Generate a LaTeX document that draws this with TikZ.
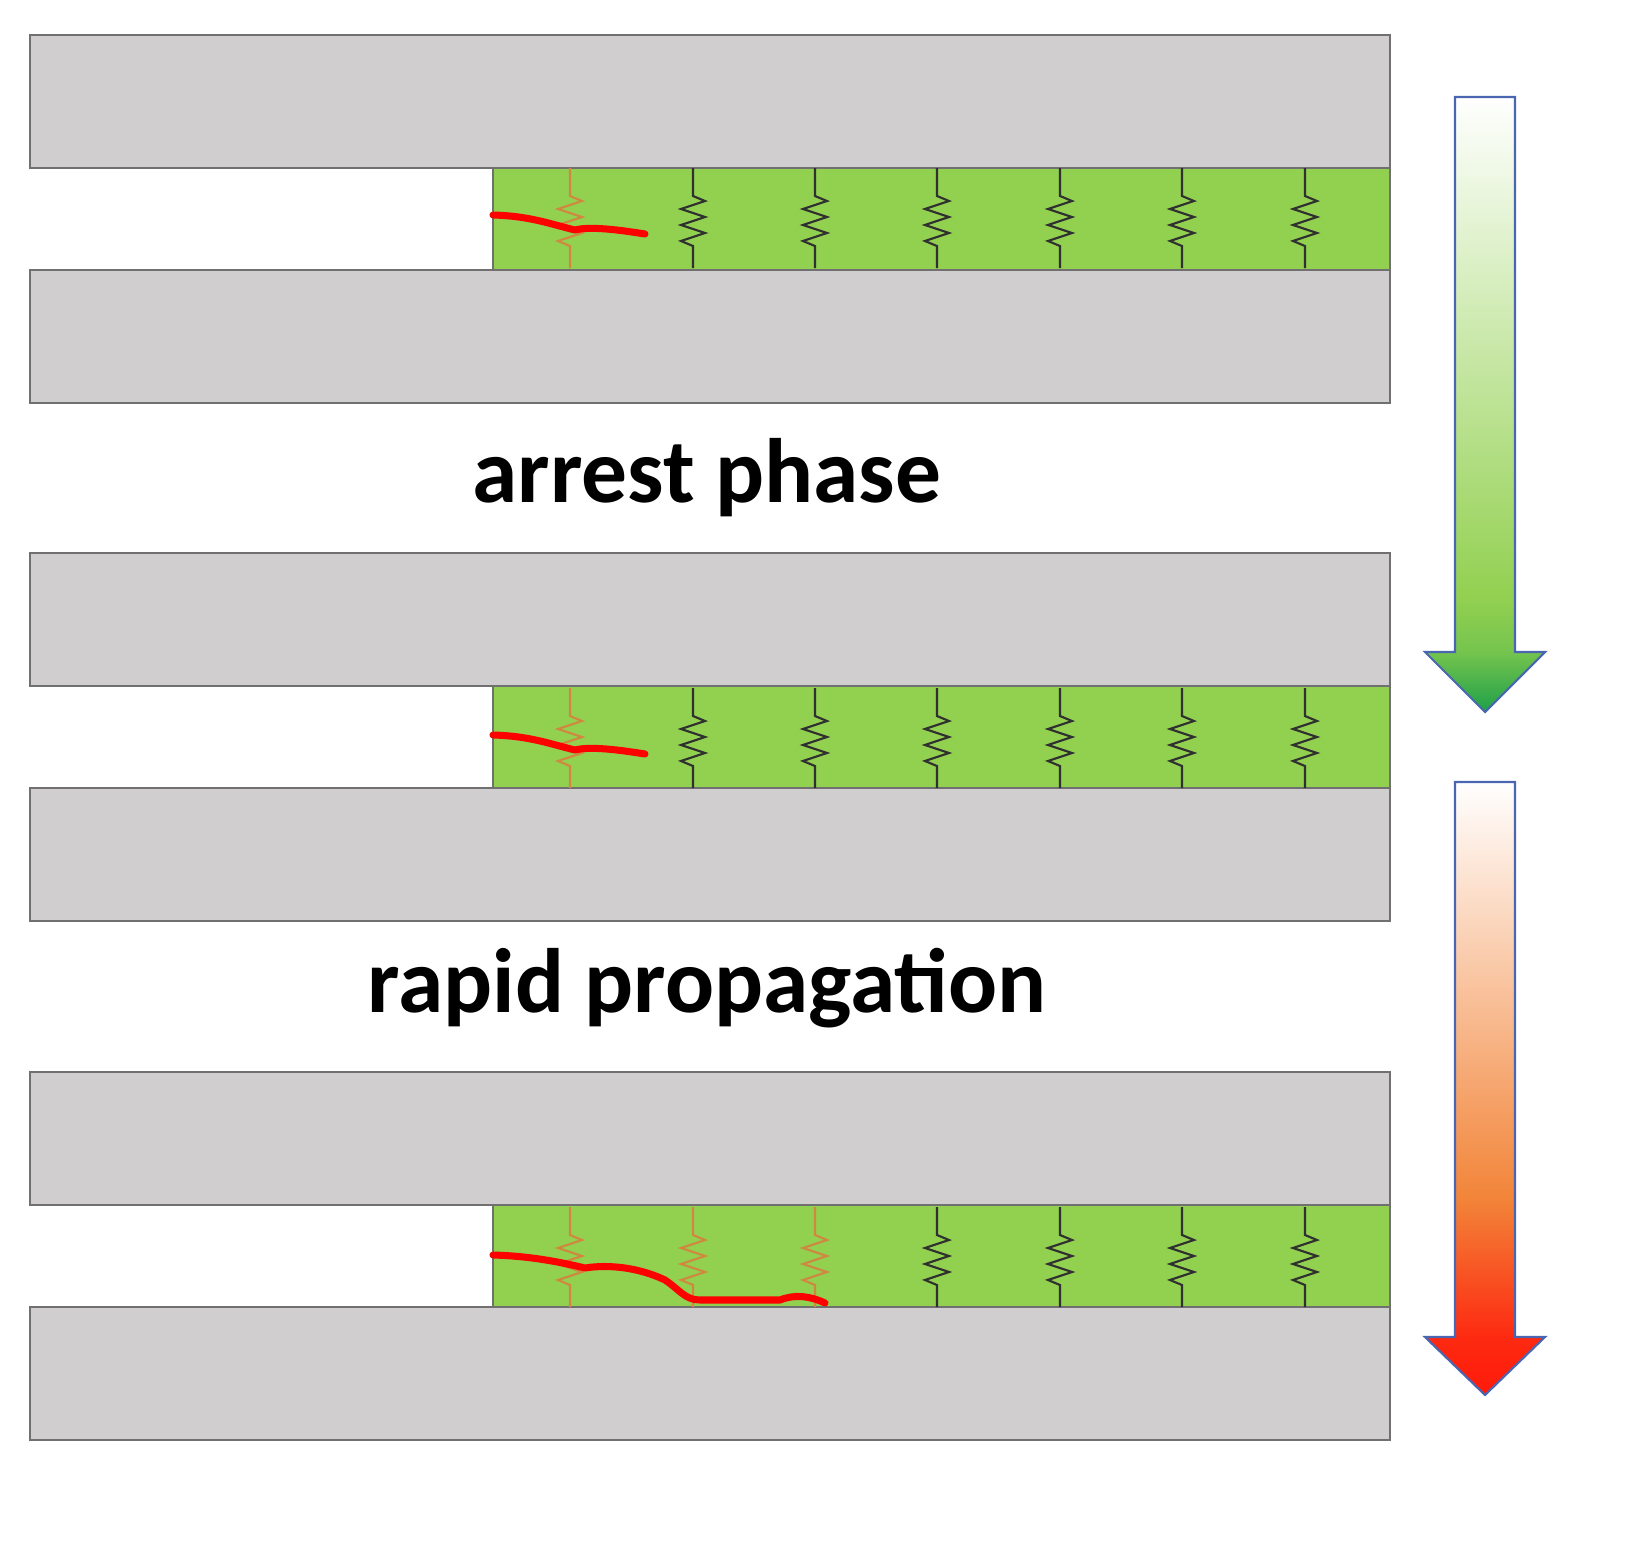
\documentclass[tikz,border=0pt]{standalone}
\usepackage{fontspec}
\setmainfont{Carlito}
\begin{document}
\begin{tikzpicture}[x=0.01cm,y=-0.01cm,
  plate/.style={fill=plategray,draw=edgegray,line width=0.5pt},
  glue/.style={fill=gluegreen,draw=edgegray,line width=0.4pt},
  crack/.style={draw=red,line width=2pt,line cap=round,line join=round},
  lbl/.style={font=\fontsize{26}{31}\selectfont\bfseries,text=black},
  arr/.style={draw=arrowblue,line width=0.6pt}]
\definecolor{plategray}{HTML}{D0CECF}
\definecolor{edgegray}{HTML}{707070}
\definecolor{gluegreen}{HTML}{92D050}
\definecolor{springdark}{HTML}{303030}
\definecolor{springorange}{HTML}{D08840}
\definecolor{arrowblue}{HTML}{4A66B0}
\definecolor{arrowgreen}{HTML}{1EA048}
\definecolor{arroworange}{HTML}{F28438}
\definecolor{arrowred}{HTML}{FF1A0A}
\useasboundingbox (0,0) rectangle (1650,1560);
\newcommand\myspring[3]{%
  \draw[#3,line width=0.6pt] (#1,#2) -- ++(0,28) -- ++(12,5) -- ++(-24,8) -- ++(24,8) -- ++(-24,8) -- ++(24,8) -- ++(-24,8) -- ++(12,5) -- (#1,#2+100);}
\foreach \t/\n in {35/a,553/b,1072/c}{
  \path[plate] (30,\t) rectangle (1390,\t+133);
  \path[glue] (493,\t+133) rectangle (1390,\t+235);
  \path[plate] (30,\t+235) rectangle (1390,\t+368);
}
\foreach \t in {168,688}{
  \myspring{570}{\t}{springorange}
  \foreach \x in {693,815,937,1060,1182,1305}{\myspring{\x}{\t}{springdark}}
}
\foreach \x in {570,693,815}{\myspring{\x}{1207}{springorange}}
\foreach \x in {937,1060,1182,1305}{\myspring{\x}{1207}{springdark}}
% cracks
\draw[crack] (493,215) .. controls (530,216) and (550,224) .. (575,230) .. controls (590,226) and (620,230) .. (645,234);
\draw[crack] (493,735) .. controls (530,736) and (550,744) .. (575,750) .. controls (590,746) and (620,750) .. (645,754);
\draw[crack] (493,1255) .. controls (530,1256) and (560,1262) .. (585,1268) .. controls (610,1264) and (640,1268) .. (665,1280) .. controls (680,1290) and (685,1300) .. (700,1300) -- (780,1300) .. controls (795,1294) and (810,1296) .. (825,1303);
% labels
\node[lbl] (t1) at (707,478) {arrest phase};
\node[lbl] (t2) at (707,988) {rapid propagation};
% green arrow
\shade[top color=white,bottom color=gluegreen] (1455,97) rectangle (1515,600);
\shade[top color=gluegreen,bottom color=gluegreen!75!arrowgreen] (1455,599) rectangle (1515,653);
\shade[top color=gluegreen!75!arrowgreen,bottom color=arrowgreen] (1425,652) -- (1545,652) -- (1485,712) -- cycle;
\draw[arr] (1455,97) -- (1515,97) -- (1515,652) -- (1545,652) -- (1485,712) -- (1425,652) -- (1455,652) -- cycle;
% red arrow
\shade[top color=white,middle color=arroworange!60!white,bottom color=arroworange] (1455,782) rectangle (1515,1200);
\shade[top color=arroworange,bottom color=arrowred!85!arroworange] (1455,1199) rectangle (1515,1338);
\shade[top color=arrowred!85!arroworange,bottom color=arrowred] (1425,1337) -- (1545,1337) -- (1485,1395) -- cycle;
\draw[arr] (1455,782) -- (1515,782) -- (1515,1337) -- (1545,1337) -- (1485,1395) -- (1425,1337) -- (1455,1337) -- cycle;
\end{tikzpicture}
\end{document}
